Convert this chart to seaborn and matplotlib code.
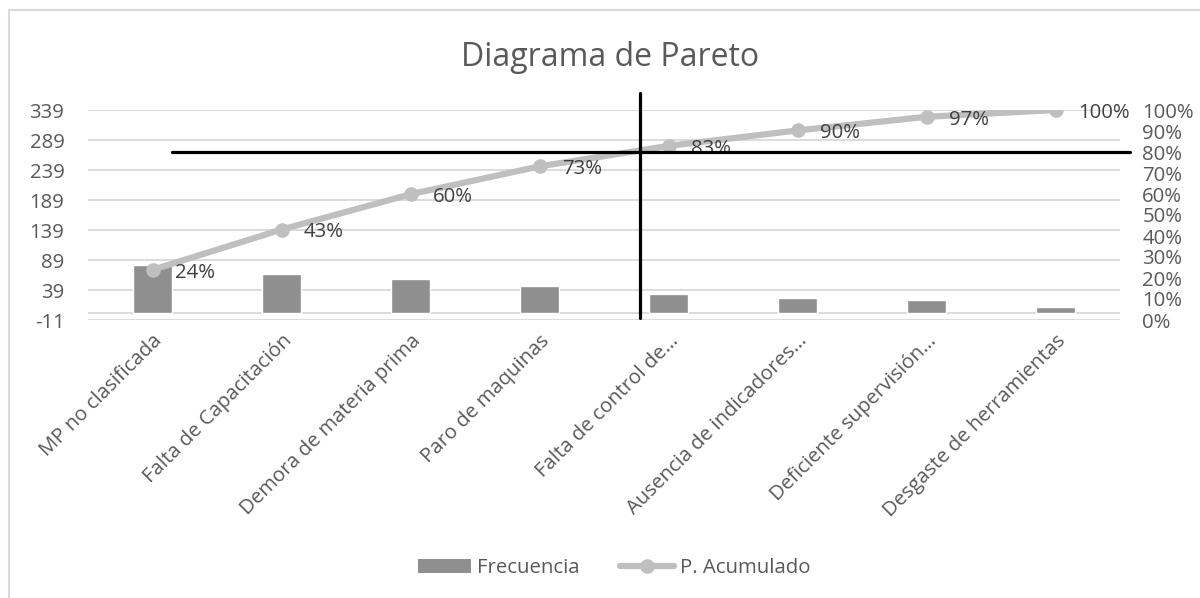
import numpy as np
import pandas as pd
import matplotlib
matplotlib.use("Agg")
import matplotlib.pyplot as plt
from matplotlib.lines import Line2D
from matplotlib.patches import Patch
import seaborn as sns

# Causes and their observed frequencies
categories = [
    "MP no clasificada",
    "Falta de Capacitación",
    "Demora de materia prima",
    "Paro de maquinas",
    "Falta de control de…",
    "Ausencia de indicadores…",
    "Deficiente supervisión…",
    "Desgaste de herramientas",
]
frecuencia = [81, 65, 57, 45, 33, 25, 22, 11]

# Left axis scale (Excel-style bounds: -11 to the total, step 50)
left_ticks = [-11, 39, 89, 139, 189, 239, 289, 339]
right_ticks = [0.0, 0.1, 0.2, 0.3, 0.4, 0.5, 0.6, 0.7, 0.8, 0.9, 1.0]

# 80 % threshold and the cut between the vital few and the useful many
umbral = 0.80
corte_x = 3.78

total = sum(frecuencia)
acumulado = np.cumsum(frecuencia) / total

df = pd.DataFrame({"Causa": categories, "Frecuencia": frecuencia,
                   "Acumulado": acumulado, "idx": np.arange(len(categories))})

sns.set_theme(style="white")
plt.rcParams["font.family"] = ["Open Sans", "DejaVu Sans"]

TXT = "#595959"
GRID = "#d9d9d9"
BAR = "#8f8f8f"
LINE = "#bfbfbf"
FS = 14.7

W, H = 1200, 598
fig = plt.figure(figsize=(W / 100, H / 100), dpi=100)
ax = fig.add_axes([88 / W, 1 - 320 / H, (1120 - 88) / W, 210 / H])

sns.barplot(data=df, x="Causa", y="Frecuencia", color=BAR, width=0.31,
            saturation=1, ax=ax, zorder=2)
ax.set_xlim(-0.5, len(categories) - 0.5)
ax.set_ylim(left_ticks[0], left_ticks[-1])
ax.set_yticks(left_ticks)
ax.set_yticklabels([str(t) for t in left_ticks])
ax.set_xlabel("")
ax.set_ylabel("")
for t in left_ticks:
    ax.axhline(t, color=GRID, lw=1.3, zorder=0)
ax.axhline(0, color=GRID, lw=1.3, zorder=1)
for s in ax.spines.values():
    s.set_visible(False)
ax.tick_params(axis="both", length=0, labelsize=FS, colors=TXT)
ax.tick_params(axis="y", pad=17)
ax.set_xticks(np.arange(len(categories)))
ax.set_xticklabels(categories, rotation=45, ha="right", va="top",
                   rotation_mode="anchor")
ax.tick_params(axis="x", pad=8)

ax2 = ax.twinx()
sns.lineplot(data=df, x="idx", y="Acumulado", color=LINE, lw=4.5,
             marker="o", markersize=10.5, markeredgewidth=0, ax=ax2, zorder=3)
ax2.set_ylim(0, 1)
ax2.set_yticks(right_ticks)
ax2.set_yticklabels([f"{int(round(t * 100))}%" for t in right_ticks])
ax2.set_ylabel("")
ax2.set_xlabel("")
ax2.set_xlim(-0.5, len(categories) - 0.5)
for s in ax2.spines.values():
    s.set_visible(False)
ax2.tick_params(axis="y", length=0, labelsize=FS, colors=TXT, pad=16)

for i, v in enumerate(acumulado):
    ax2.annotate(f"{round(v * 100):.0f}%", (i, v), xytext=(16, -2),
                 textcoords="offset points", ha="left", va="center",
                 fontsize=FS, color="#404040", zorder=4)

# Pareto reference lines
ax2.plot([0.15, 7.58], [umbral, umbral], color="black", lw=2.3,
         clip_on=False, zorder=5)
ax2.plot([corte_x, corte_x], [0.01, 1.08], color="black", lw=2.3,
         clip_on=False, zorder=5)

fig.text(610 / W, 1 - 57 / H, "Diagrama de Pareto", ha="center", va="center",
         fontsize=23, color=TXT)

handles = [Patch(facecolor=BAR, edgecolor="none"),
           Line2D([0], [0], color=LINE, lw=4.5, marker="o", markersize=10.5,
                  markeredgewidth=0)]
fig.legend(handles, ["Frecuencia", "P. Acumulado"], loc="center",
           bbox_to_anchor=(614 / W, 1 - 568 / H), ncol=2, frameon=False,
           fontsize=FS, labelcolor=TXT, handlelength=2.6, handleheight=0.7,
           handletextpad=0.3, columnspacing=2.0)

# Chart area border (top and left edges)
fig.add_artist(Line2D([9 / W, 9 / W], [0, 1 - 10 / H], transform=fig.transFigure,
                      color=GRID, lw=1.5))
fig.add_artist(Line2D([9 / W, 1], [1 - 10 / H, 1 - 10 / H], transform=fig.transFigure,
                      color=GRID, lw=1.5))

fig.savefig("out.png", dpi=100, facecolor="white")
